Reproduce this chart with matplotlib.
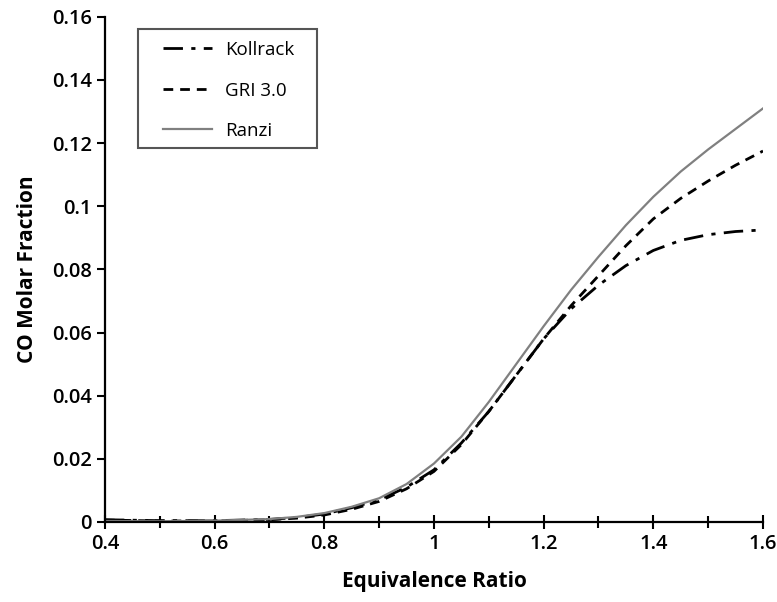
import matplotlib
matplotlib.use('Agg')
import matplotlib.pyplot as plt
from matplotlib.patches import Rectangle

# Werte
phi = [0.4, 0.5, 0.6, 0.7, 0.75, 0.8, 0.85, 0.9, 0.95, 1.0, 1.05, 1.1, 1.15, 1.2,
       1.25, 1.3, 1.35, 1.4, 1.45, 1.5, 1.55, 1.6]
kollrack = [0.0007, 0.0004, 0.0004, 0.0008, 0.0014, 0.0025, 0.0045, 0.0070, 0.0110, 0.0165,
            0.0250, 0.0350, 0.0465, 0.0580, 0.0675, 0.0750, 0.0812, 0.0860, 0.0892, 0.0910,
            0.0920, 0.0925]
gri30 = [0.0006, 0.0003, 0.0003, 0.0007, 0.0012, 0.0022, 0.0040, 0.0065, 0.0105, 0.0160,
         0.0245, 0.0350, 0.0465, 0.0580, 0.0685, 0.0780, 0.0875, 0.0960, 0.1025, 0.1080,
         0.1130, 0.1175]
ranzi = [0.0003, 0.0002, 0.0004, 0.0009, 0.0016, 0.0028, 0.0048, 0.0075, 0.0120, 0.0185,
         0.0270, 0.0380, 0.0500, 0.0620, 0.0735, 0.0840, 0.0940, 0.1030, 0.1110, 0.1180,
         0.1245, 0.1310]

plt.rcParams['font.family'] = ['Open Sans', 'DejaVu Sans']

fig = plt.figure(figsize=(7.77, 6.02), dpi=100)
ax = fig.add_axes([0.135, 0.133, 0.847, 0.839])

ax.plot(phi, kollrack, color='black', lw=2, linestyle=(0, (7, 3, 1.5, 3)), label='Kollrack')
ax.plot(phi, gri30, color='black', lw=2, linestyle=(0, (3.5, 2.5)), label='GRI 3.0')
ax.plot(phi, ranzi, color='#808080', lw=1.6, linestyle='-', label='Ranzi')

ax.set_xlim(0.4, 1.6)
ax.set_ylim(0, 0.16)
ax.set_xticks([0.4, 0.6, 0.8, 1.0, 1.2, 1.4, 1.6])
ax.set_xticklabels(['0.4', '0.6', '0.8', '1', '1.2', '1.4', '1.6'])
ax.set_xticks([0.5, 0.7, 0.9, 1.1, 1.3, 1.5], minor=True)
ax.set_yticks([0, 0.02, 0.04, 0.06, 0.08, 0.1, 0.12, 0.14, 0.16])
ax.set_yticklabels(['0', '0.02', '0.04', '0.06', '0.08', '0.1', '0.12', '0.14', '0.16'])

for s in ['top', 'right']:
    ax.spines[s].set_visible(False)
for s in ['left', 'bottom']:
    ax.spines[s].set_linewidth(1.6)

ax.tick_params(axis='x', which='both', direction='inout', length=10, width=1.5, labelsize=14.5, pad=4)
ax.tick_params(axis='x', which='minor', length=8)
ax.tick_params(axis='y', direction='out', length=6, width=1.5, labelsize=14.5)
for lab in ax.get_xticklabels() + ax.get_yticklabels():
    lab.set_fontweight('semibold')

ax.set_xlabel('Equivalence Ratio', fontsize=15, fontweight='bold', labelpad=12)
ax.set_ylabel('CO Molar Fraction', fontsize=15, fontweight='bold', labelpad=10)

# Legende ohne eigenen Rahmen, Rahmen separat (breiter als der Inhalt, wie im Original)
leg = ax.legend(loc='upper left', bbox_to_anchor=(163 / 777, 1 - 41 / 602),
                bbox_transform=fig.transFigure, fontsize=13.5, frameon=False,
                handlelength=2.6, handletextpad=0.7, borderpad=0, labelspacing=1.2,
                borderaxespad=0)
fig.patches.append(Rectangle((138 / 777, 1 - 148 / 602), 179 / 777, 119 / 602,
                             transform=fig.transFigure, fill=False,
                             edgecolor='#555555', linewidth=1.5))

fig.savefig('out.png', dpi=100)
